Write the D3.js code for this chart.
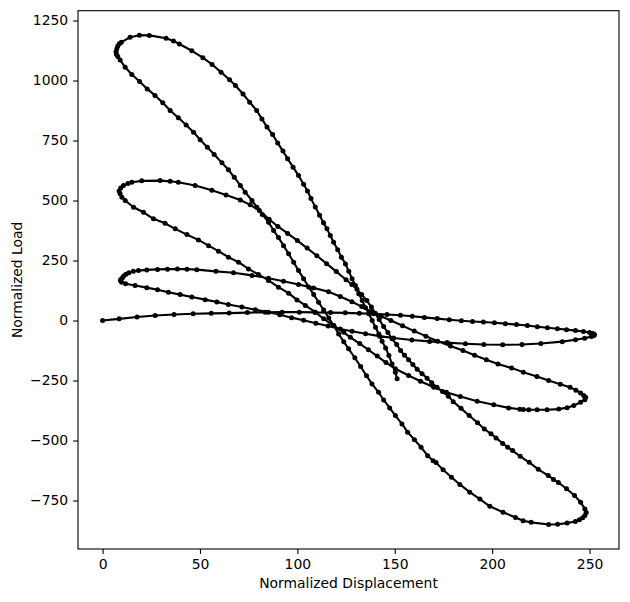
<!DOCTYPE html>
<html>
<head>
<meta charset="utf-8">
<script src="https://cdn.jsdelivr.net/npm/d3@7"></script>
<style>
  html, body { margin: 0; padding: 0; background: #fff; }
  text { font-family: "DejaVu Sans", sans-serif; }
</style>
</head>
<body>
<svg id="chart"></svg>
<script>
const width = 630, height = 602;
const margin = { left: 78, right: 11, top: 10.7, bottom: 53 };
const line_color = "#000", text_color = "#000";
const font_size = 13.9;

// Points, one array per half cycle [displacement, load]
const halfCycle1 = [[0,0],[8.5,7],[17.7,15],[27,21],[36.7,25],[46.5,28],[55.8,30],[65,31],[74.3,33],[83.5,34],
  [92.2,35],[101,35],[109,34],[117,33],[124.6,32],[131.8,30],[139,28],[146,25],[152.9,22],[159,18],
  [165.2,13],[171.8,8],[178,3],[184.2,-1],[189.9,-4],[195.5,-6],[201.2,-9],[206.8,-13],[212.5,-17],[218.1,-21],
  [223.2,-26],[228.4,-30],[233.5,-34],[238.2,-38],[242.8,-42],[246.9,-46],[250,-50],[251.8,-54],[252.5,-58],[252.3,-62]];
const halfCycle2 = [[251,-67],[247.5,-74],[242.8,-80],[236,-88],[225,-96],[215.3,-100],[205.4,-101],[195.7,-100],
  [186.3,-97],[176.9,-92],[167.9,-87],[158.8,-81],[149.4,-73],[142.2,-65],[135,-55],[128.1,-45],[122,-35],
  [115.8,-23],[109.5,-11],[103.2,1],[97,12],[91,24],[85.2,35],[78.4,45],[71.5,56],[64.6,67],[58.7,77],
  [52.7,87],[45.8,98],[39.8,108],[33.8,118],[28.2,128],[22.7,137],[16.7,146],[11.8,153],[9.8,160],[9.2,166],[9.3,171]];
const halfCycle3 = [[10.2,178],[10.8,186],[12,193],[13.5,199],[15.8,205],[18.4,208],[22.7,211],[28.2,213],[33.3,214],
  [38.4,215],[43.3,214],[48.4,212],[58.2,205],[67.2,199],[76.7,188],[85.2,176],[92.9,164],[100.6,150],[108.3,136],
  [116,120],[122,100],[128,78],[133,58],[138,38],[143,18],[148,0],[154,-22],[160,-44],[166,-65],[172,-86],
  [178.6,-106],[185,-125],[191,-145],[197,-163],[203,-181],[210,-198],[216,-215],[223,-233],[229,-250],[235,-265],
  [240,-278],[243,-290],[245.4,-302],[247,-312],[248,-320]];
const halfCycle4 = [[247.6,-330],[245.4,-341],[241.9,-354],[238.5,-363],[234.2,-369],[228.2,-372],[223.1,-372],
  [218.8,-372],[216,-371],[214.2,-370],[208.5,-364],[200.8,-351],[192.3,-336],[183.7,-317],[176.5,-299],[170,-278],
  [163.2,-253],[157.1,-229],[150.3,-201],[145.5,-175],[141,-148],[136.5,-122],[132,-96],[127.2,-70],[123.8,-49],
  [118.7,-21],[113.5,7],[109.2,35],[104.1,63],[99.8,86],[95.5,114],[90.3,139],[85.2,167],[80,192],[74.9,215],
  [69.8,243],[64.6,264],[59.5,289],[54.4,312],[49.2,336],[43.3,358],[37.3,382],[32.1,405],[26.1,424],[21,451],
  [15.9,472],[11.6,500],[9.9,514],[9,528]];
const halfCycle5 = [[8.5,540],[9.3,552],[10.7,563],[13,571],[15,576],[20.1,582],[29.5,583],[34.7,580],[38.9,576],
  [47.5,563],[56.1,543],[63.4,523],[70.7,502],[75.8,482],[80.5,458],[85.5,422],[90,392],[95,363],[100,333],
  [105,302],[110,270],[115,237],[120,204],[125,170],[128,150],[130.6,130],[133,108],[135.7,83],[138,56],[140,30],
  [142,4],[144.3,-25],[146.5,-50],[148.6,-76],[151,-100],[153,-125],[155,-145],[157.1,-163],[159.3,-183],
  [161.5,-203],[164,-222],[166.6,-240],[169,-259],[171.7,-278],[174.5,-296],[177.5,-315],[180,-338],[184,-366],
  [188.2,-396],[192.5,-426],[196,-452],[199.4,-472],[202,-489],[205.4,-512],[208,-528],[210.5,-542],[214.4,-566],
  [219,-591],[223.7,-620],[228.8,-646],[231.5,-662],[234,-675],[238.2,-701],[242.3,-729],[245.4,-757],[247.6,-785],
  [248.3,-800]];
const halfCycle6 = [[247.6,-812],[246.5,-822],[244.8,-830],[242.7,-837],[238.5,-844],[233.6,-849],[229,-850],
  [220,-841],[215.9,-834],[212,-821],[205.6,-799],[198.8,-774],[193.7,-744],[188.5,-715],[183.4,-683],[179.1,-653],
  [174.8,-622],[171.2,-592],[169.7,-584],[166.9,-563],[163.5,-528],[160.1,-497],[156.6,-465],[153.7,-431],
  [150.3,-396],[147.4,-364],[144.3,-331],[141.7,-299],[138.3,-264],[135.5,-230],[132.5,-192],[129.5,-155],
  [126.3,-118],[123.8,-88],[121.2,-56],[118.7,-22],[116.1,11],[113.5,44],[110.9,76],[108.4,108],[105.8,140],
  [103.2,174],[100.6,208],[98.1,243],[95.5,278],[92.9,312],[90.3,346],[87.8,375],[85.2,410],[82,442],[79.2,472],
  [76.7,500],[73.2,535],[70.7,563],[67.6,597],[64.6,628],[61.3,657],[57.3,692],[53.8,722],[50.1,753],[46.7,785],
  [42.9,815],[38.9,845],[34.7,875],[30.9,907],[26.9,938],[22.9,965],[19,996],[15,1025],[11.6,1055],[9,1086],
  [7.8,1100],[7.1,1110]];
const halfCycle7 = [[6.9,1120],[7.3,1132],[7.8,1144],[8.6,1153],[9.6,1160],[14.1,1180],[18.9,1189],[24,1188],
  [32.6,1176],[36.4,1165],[39.4,1152],[45.8,1124],[51.5,1095],[56.2,1067],[60.8,1035],[65.2,1003],[68.2,979],
  [72.1,944],[75.5,910],[79.1,875],[81.8,840],[84.4,806],[87.3,775],[89.9,740],[92.6,706],[95,674],[97.8,639],
  [100.6,604],[103.2,568],[105.2,540],[107,508],[109.2,473],[111.4,439],[113.4,407],[115.2,382],[116.9,354],
  [118.6,326],[120.7,295],[122.6,264],[124.7,236],[126.4,205],[128.1,174],[129.8,146],[131.5,112],[133.3,83],
  [135,53],[136.7,28],[138.4,0],[140.1,-28],[141.8,-56],[143.5,-86],[145.3,-114],[147,-146],[148.6,-181],
  [150.3,-215],[151.2,-243]];

const xTicks = [0, 50, 100, 150, 200, 250];
const yTicks = [-750, -500, -250, 0, 250, 500, 750, 1000, 1250];
const xLabel = "Normalized Displacement";
const yLabel = "Normalized Load";

const data = [].concat(halfCycle1, halfCycle2, halfCycle3, halfCycle4, halfCycle5, halfCycle6, halfCycle7);

const svg = d3.select("#chart")
  .attr("width", width)
  .attr("height", height);

// matplotlib style 5% margins on the data range
const pad = (ext) => { const r = ext[1] - ext[0]; return [ext[0] - 0.05 * r, ext[1] + 0.05 * r]; };

const x = d3.scaleLinear()
  .domain(pad(d3.extent(data, d => d[0])))
  .range([margin.left, width - margin.right]);
const y = d3.scaleLinear()
  .domain(pad(d3.extent(data, d => d[1])))
  .range([height - margin.bottom, margin.top]);

const fmt = d => d < 0 ? "\u2212" + Math.abs(d) : String(d);

// axes
const xAxis = svg.append("g")
  .attr("transform", `translate(0,${height - margin.bottom})`)
  .call(d3.axisBottom(x).tickValues(xTicks).tickFormat(fmt).tickSizeOuter(0).tickSize(4.9).tickPadding(4.9));
const yAxis = svg.append("g")
  .attr("transform", `translate(${margin.left},0)`)
  .call(d3.axisLeft(y).tickValues(yTicks).tickFormat(fmt).tickSizeOuter(0).tickSize(4.9).tickPadding(4.9));

[xAxis, yAxis].forEach(g => {
  g.select(".domain").remove();
  g.selectAll(".tick line").attr("stroke", line_color).attr("stroke-width", 1.1);
  g.selectAll(".tick text")
    .attr("fill", text_color)
    .attr("font-size", font_size)
    .attr("font-family", "DejaVu Sans, sans-serif");
});

// frame
svg.append("rect")
  .attr("x", margin.left)
  .attr("y", margin.top)
  .attr("width", width - margin.left - margin.right)
  .attr("height", height - margin.top - margin.bottom)
  .attr("fill", "none")
  .attr("stroke", line_color)
  .attr("stroke-width", 1.1);

// axis labels
svg.append("text")
  .attr("x", x.range()[0] + (x.range()[1] - x.range()[0]) / 2)
  .attr("y", 588)
  .attr("text-anchor", "middle")
  .attr("font-size", font_size)
  .attr("fill", text_color)
  .text(xLabel);

svg.append("text")
  .attr("transform", `translate(22,${(y.range()[0] + y.range()[1]) / 2}) rotate(-90)`)
  .attr("text-anchor", "middle")
  .attr("font-size", font_size)
  .attr("fill", text_color)
  .text(yLabel);

// line + markers
const plot = svg.append("g");
const line = d3.line().x(d => x(d[0])).y(d => y(d[1]));

plot.append("path")
  .datum(data)
  .attr("d", line)
  .attr("fill", "none")
  .attr("stroke", line_color)
  .attr("stroke-width", 2.1)
  .attr("stroke-linejoin", "round");

plot.selectAll("circle")
  .data(data)
  .enter()
  .append("circle")
  .attr("cx", d => x(d[0]))
  .attr("cy", d => y(d[1]))
  .attr("r", 2.5)
  .attr("fill", line_color);
</script>
</body>
</html>
